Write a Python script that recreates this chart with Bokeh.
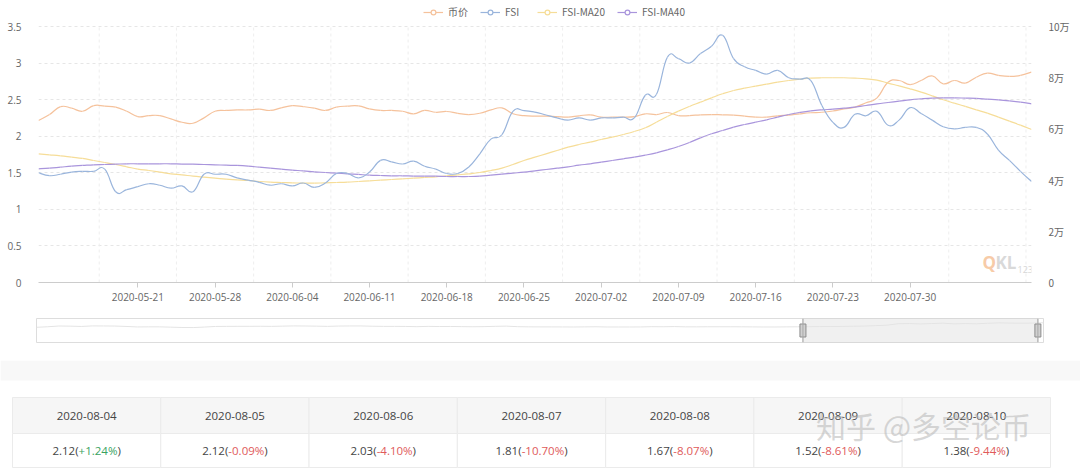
import numpy as np
import pandas as pd
from bokeh.plotting import figure
from bokeh.models import (Range1d, LinearAxis, FixedTicker, DatetimeTickFormatter,
                          Legend, LegendItem, Label, Span)
from bokeh.embed import file_html
from bokeh.resources import INLINE
from bokeh.core.properties import value

# ---------------- data ----------------
start_date = "2020-05-12"
end_date = "2020-08-10"
dates = pd.date_range(start_date, end_date, freq="D")

series_names = ["币价", "FSI", "FSI-MA20", "FSI-MA40"]

price = [63300, 65600, 68700, 68100, 66900, 69100, 68900, 68500, 66900, 64800,
         65200, 65200, 63900, 62600, 62200, 64300, 66900, 67200, 67400, 67400,
         67700, 67200, 68200, 69100, 68700, 68100, 67200, 68500, 68900, 69000,
         67800, 67200, 67200, 66900, 65900, 67200, 66500, 66800, 66100, 65600,
         66100, 67400, 68200, 65900, 65200, 65000, 65000, 64800, 64600, 65100,
         65500, 64600, 64600, 64600, 64800, 65900, 65600, 66400, 65200, 65200,
         65500, 65600, 65500, 65400, 65000, 64600, 64600, 65100, 65400, 65900,
         66300, 66500, 67000, 67800, 68500, 70200, 72100, 78200, 78900, 77300,
         78900, 80700, 77600, 78900, 77900, 80200, 81800, 80900, 80500, 80900,
         82200]

fsi = [1.50, 1.46, 1.48, 1.51, 1.52, 1.52, 1.55, 1.24, 1.27, 1.31,
       1.35, 1.33, 1.29, 1.32, 1.24, 1.48, 1.48, 1.48, 1.43, 1.40,
       1.37, 1.33, 1.35, 1.32, 1.36, 1.30, 1.36, 1.49, 1.49, 1.43,
       1.51, 1.67, 1.65, 1.62, 1.66, 1.59, 1.55, 1.49, 1.49, 1.58,
       1.76, 1.96, 2.02, 2.34, 2.35, 2.33, 2.29, 2.25, 2.22, 2.25,
       2.22, 2.25, 2.25, 2.26, 2.25, 2.56, 2.57, 3.08, 3.06, 3.00,
       3.13, 3.23, 3.38, 3.06, 2.95, 2.90, 2.85, 2.90, 2.80, 2.78,
       2.76, 2.42, 2.19, 2.12, 2.30, 2.28, 2.34, 2.15, 2.22, 2.39,
       2.31, 2.22, 2.13, 2.10, 2.12, 2.12, 2.03, 1.81, 1.67, 1.52,
       1.38]

fsi_ma20 = [1.759, 1.746, 1.732, 1.714, 1.696, 1.668, 1.641, 1.613, 1.582, 1.550,
            1.531, 1.509, 1.486, 1.472, 1.454, 1.440, 1.427, 1.413, 1.404, 1.395,
            1.381, 1.372, 1.367, 1.363, 1.358, 1.358, 1.363, 1.367, 1.372, 1.381,
            1.390, 1.399, 1.408, 1.417, 1.427, 1.436, 1.445, 1.459, 1.472, 1.486,
            1.504, 1.531, 1.563, 1.613, 1.668, 1.714, 1.759, 1.805, 1.850, 1.887,
            1.919, 1.955, 1.987, 2.024, 2.065, 2.115, 2.192, 2.270, 2.343, 2.407,
            2.466, 2.525, 2.580, 2.625, 2.657, 2.685, 2.712, 2.739, 2.762, 2.780,
            2.794, 2.799, 2.799, 2.799, 2.794, 2.785, 2.767, 2.726, 2.689, 2.648,
            2.603, 2.552, 2.498, 2.452, 2.407, 2.361, 2.315, 2.261, 2.206, 2.151,
            2.092]

fsi_ma40 = [1.554, 1.563, 1.577, 1.591, 1.600, 1.609, 1.613, 1.618, 1.623, 1.623,
            1.623, 1.623, 1.623, 1.618, 1.618, 1.613, 1.609, 1.604, 1.600, 1.591,
            1.577, 1.563, 1.550, 1.536, 1.527, 1.513, 1.504, 1.495, 1.486, 1.477,
            1.468, 1.463, 1.459, 1.459, 1.454, 1.454, 1.454, 1.449, 1.449, 1.449,
            1.454, 1.468, 1.481, 1.495, 1.509, 1.527, 1.545, 1.563, 1.582, 1.604,
            1.623, 1.645, 1.668, 1.691, 1.714, 1.741, 1.773, 1.814, 1.860, 1.914,
            1.978, 2.033, 2.078, 2.124, 2.160, 2.192, 2.224, 2.261, 2.297, 2.325,
            2.347, 2.361, 2.370, 2.384, 2.397, 2.420, 2.443, 2.461, 2.479, 2.498,
            2.511, 2.521, 2.525, 2.525, 2.521, 2.516, 2.507, 2.498, 2.484, 2.466,
            2.443]

x_tick_labels = ["2020-05-21", "2020-05-28", "2020-06-04", "2020-06-11", "2020-06-18",
                 "2020-06-25", "2020-07-02", "2020-07-09", "2020-07-16", "2020-07-23",
                 "2020-07-30"]
y_left_ticks = [0, 0.5, 1, 1.5, 2, 2.5, 3, 3.5]
y_left_labels = ["0", "0.5", "1", "1.5", "2", "2.5", "3", "3.5"]
y_right_ticks = [0, 20000, 40000, 60000, 80000, 100000]
y_right_labels = ["0", "2万", "4万", "6万", "8万", "10万"]

slider_window = ["2020-07-19 12:00", "2020-08-09 12:00"]

table_dates = ["2020-08-04", "2020-08-05", "2020-08-06", "2020-08-07",
               "2020-08-08", "2020-08-09", "2020-08-10"]
table_values = [2.12, 2.12, 2.03, 1.81, 1.67, 1.52, 1.38]
table_changes = ["+1.24%", "-0.09%", "-4.10%", "-10.70%", "-8.07%", "-8.61%", "-9.44%"]

# ---------------- styles ----------------
colors = ["#f5c29c", "#9ab5dc", "#f6dd98", "#a995dc"]
TXT = "#666666"
FONT = "Open Sans"
CJK = "Noto Sans CJK SC"
DAY = 86400000.0
LEFT_MAX, RIGHT_MAX = 3.5, 100000
HEAD = 282 / 256  # frame also holds the legend strip above the top gridline


def ms(d):
    return pd.Timestamp(d).value / 1e6


xm = np.array([ms(d) for d in dates])


def smooth_segments(y):
    """cubic bezier pieces through the data points (echarts-like smoothing)"""
    y = np.asarray(y, dtype=float)
    xp = np.r_[xm[0], xm[:-1]]
    xn = np.r_[xm[1:], xm[-1]]
    yp = np.r_[y[0], y[:-1]]
    yn = np.r_[y[1:], y[-1]]
    tx = (xn - xp) / 4.5
    ty = (yn - yp) / 4.5
    return dict(x0=xm[:-1], y0=y[:-1], x1=xm[1:], y1=y[1:],
                cx0=xm[:-1] + tx[:-1], cy0=y[:-1] + ty[:-1],
                cx1=xm[1:] - tx[1:], cy1=y[1:] - ty[1:])


# ---------------- main chart ----------------
p = figure(width=1080, height=312, x_axis_type="datetime",
           x_range=Range1d(xm[0], xm[-1]), y_range=Range1d(0, LEFT_MAX * HEAD),
           output_backend="svg", toolbar_location=None,
           min_border_left=38, min_border_right=49, min_border_top=0, min_border_bottom=30)
p.extra_y_ranges = {"price": Range1d(0, RIGHT_MAX * HEAD)}
p.outline_line_color = None
p.background_fill_color = "white"
p.border_fill_color = "white"

tick_ms = [ms(t) for t in x_tick_labels]
grid_ms = [t - 3.5 * DAY for t in tick_ms] + [tick_ms[-1] + 3.5 * DAY, tick_ms[-1] + 10.5 * DAY]

xa = p.xaxis[0]
xa.ticker = FixedTicker(ticks=tick_ms)
fmt = "%Y-%m-%d"
xa.formatter = DatetimeTickFormatter(days=fmt, months=fmt, years=fmt, hours=fmt,
                                     hourmin=fmt, minutes=fmt, minsec=fmt,
                                     seconds=fmt, milliseconds=fmt, microseconds=fmt)
xa.axis_line_color = "#cccccc"
xa.major_tick_line_color = "#cccccc"
xa.major_tick_out = 5
xa.major_tick_in = 0
xa.minor_tick_line_color = None
xa.major_label_standoff = 5
xa.major_label_text_font = FONT
xa.major_label_text_font_size = "10px"
xa.major_label_text_color = TXT

ya = p.yaxis[0]
ya.ticker = FixedTicker(ticks=y_left_ticks)
ya.major_label_overrides = dict(zip(y_left_ticks, y_left_labels))
ya.axis_line_color = None
ya.major_tick_line_color = None
ya.minor_tick_line_color = None
ya.major_label_standoff = 11
ya.major_label_text_font = FONT
ya.major_label_text_font_size = "10px"
ya.major_label_text_color = TXT

ra = LinearAxis(y_range_name="price", ticker=FixedTicker(ticks=y_right_ticks))
ra.major_label_overrides = dict(zip(y_right_ticks, y_right_labels))
ra.axis_line_color = None
ra.major_tick_line_color = None
ra.minor_tick_line_color = None
ra.major_label_standoff = 11
ra.major_label_text_font = CJK
ra.major_label_text_font_size = "10px"
ra.major_label_text_color = TXT
p.add_layout(ra, "right")

p.xgrid.visible = False
p.segment(x0=grid_ms, y0=[0] * len(grid_ms), x1=grid_ms, y1=[LEFT_MAX] * len(grid_ms),
          line_color="#eeeeee", line_dash="3 3", line_width=1)
p.ygrid.ticker = FixedTicker(ticks=y_left_ticks)
p.ygrid.grid_line_color = "#e6e6e6"
p.ygrid.grid_line_dash = "3 3"

LW = 1.2
p.bezier(line_color=colors[0], line_width=LW, y_range_name="price", **smooth_segments(price))
p.bezier(line_color=colors[2], line_width=LW, **smooth_segments(fsi_ma20))
p.bezier(line_color=colors[3], line_width=LW, **smooth_segments(fsi_ma40))
p.bezier(line_color=colors[1], line_width=LW, **smooth_segments(fsi))

# legend keys: renderers holding a single NaN point (nothing drawn on the chart)
nan1 = np.array([np.nan])
items = []
for name, c in zip(series_names, colors):
    lr = p.line(x=nan1, y=nan1, line_color=c, line_width=LW)
    ic = p.scatter(x=nan1, y=nan1, marker="circle", size=7, fill_color="white",
                   line_color=c, line_width=1.2)
    items.append(LegendItem(label=name, renderers=[lr, ic]))
legend = Legend(items=items, orientation="horizontal", location=(385, 263),
                glyph_width=20, glyph_height=12, label_height=12, label_standoff=5,
                spacing=12, padding=2, margin=0, border_line_color=None,
                background_fill_alpha=0,
                label_text_font=CJK, label_text_font_size="10px", label_text_color=TXT)
p.add_layout(legend, "center")

# watermark QKL123
p.add_layout(Label(x=944, y=9, x_units="screen", y_units="screen", text="Q",
                   text_font=FONT, text_font_size="17px", text_font_style="bold",
                   text_color="#f7cba8"))
p.add_layout(Label(x=957, y=9, x_units="screen", y_units="screen", text="KL",
                   text_font=FONT, text_font_size="17px", text_font_style="bold",
                   text_color="#d9d9d9"))
p.add_layout(Label(x=979, y=10, x_units="screen", y_units="screen", text="123",
                   text_font=FONT, text_font_size="9px",
                   text_color="#d6d6d6"))

# ---------------- data zoom slider ----------------
ps = figure(width=1080, height=48, x_axis_type="datetime",
            x_range=Range1d(xm[0], xm[-1]), y_range=Range1d(0, RIGHT_MAX),
            output_backend="svg", toolbar_location=None,
            x_axis_location=None, y_axis_location=None,
            min_border_left=36, min_border_right=37, min_border_top=6, min_border_bottom=18)
ps.grid.visible = False
ps.outline_line_color = "#dddddd"
ps.border_fill_color = "white"
ps.line(xm, price, color="#e4e4e4", line_width=1)
sel = [ms(s) for s in slider_window]
ps.quad(left=[sel[0]], right=[sel[1]], bottom=[0], top=[RIGHT_MAX],
        fill_color="#e4e4e4", fill_alpha=0.55, line_color="#d6d6d6")
for s in sel:
    ps.add_layout(Span(location=s, dimension="height", line_color="#a9a9a9", line_width=1))
ps.rect(x=sel, y=[RIGHT_MAX / 2] * 2, width=6, height=13, width_units="screen",
        height_units="screen", fill_color="#d0d0d0", line_color="#8c8c8c", line_width=1)

# ---------------- table ----------------
pt = figure(width=1080, height=115, x_range=Range1d(0, 1080), y_range=Range1d(115, 0),
            output_backend="svg", toolbar_location=None,
            x_axis_location=None, y_axis_location=None, min_border=0)
pt.grid.visible = False
pt.outline_line_color = None
pt.border_fill_color = "white"

pt.quad(left=[0], right=[1080], top=[0], bottom=[20], fill_color="#f8f8f8", line_color=None)

n = len(table_dates)
tbl_left, tbl_right = 12, 1050
cw = (tbl_right - tbl_left) / n
lefts = [tbl_left + k * cw for k in range(n)]
rights = [l + cw for l in lefts]
centers = [l + cw / 2 for l in lefts]
pt.quad(left=lefts, right=rights, top=[37] * n, bottom=[73] * n,
        fill_color="#f6f6f6", line_color="#ebebeb")
pt.quad(left=lefts, right=rights, top=[73] * n, bottom=[107] * n,
        fill_color="#ffffff", line_color="#ebebeb")
pt.text(x=centers, y=[55] * n, text=table_dates, text_align="center",
        text_baseline="middle", text_font=value(FONT), text_font_size="11.5px",
        text_color="#444444")

EM = {"0": .572, "1": .572, "2": .572, "3": .572, "4": .572, "5": .572, "6": .572,
      "7": .572, "8": .572, "9": .572, ".": .266, "+": .572, "-": .322, "%": .823,
      "(": .297, ")": .297}
SZ = 11.5


def tw(s):
    return sum(EM.get(ch, .572) for ch in s) * SZ


xs1, xs2, xs3, t1, t2, cols = [], [], [], [], [], []
for cx, v, ch in zip(centers, table_values, table_changes):
    a = f"{v:.2f}("
    w1, w2, w3 = tw(a), tw(ch), tw(")")
    x0 = cx - (w1 + w2 + w3) / 2
    xs1.append(x0); xs2.append(x0 + w1); xs3.append(x0 + w1 + w2)
    t1.append(a); t2.append(ch)
    cols.append("#3aa35f" if ch.startswith("+") else "#e05a5a")
pt.text(x=xs1, y=[90] * n, text=t1, text_align="left", text_baseline="middle",
        text_font=value(FONT), text_font_size="11.5px", text_color="#444444")
pt.text(x=xs2, y=[90] * n, text=t2, text_align="left", text_baseline="middle",
        text_font=value(FONT), text_font_size="11.5px", text_color=cols)
pt.text(x=xs3, y=[90] * n, text=[")"] * n, text_align="left", text_baseline="middle",
        text_font=value(FONT), text_font_size="11.5px", text_color="#444444")

pt.add_layout(Label(x=923, y=64, text="知乎 @多空论币", text_align="center",
                    text_baseline="middle", text_font=CJK, text_font_size="30px",
                    text_color="#b5b5b5", text_alpha=0.55))

open("out.html", "w").write(file_html([p, ps, pt], INLINE))
